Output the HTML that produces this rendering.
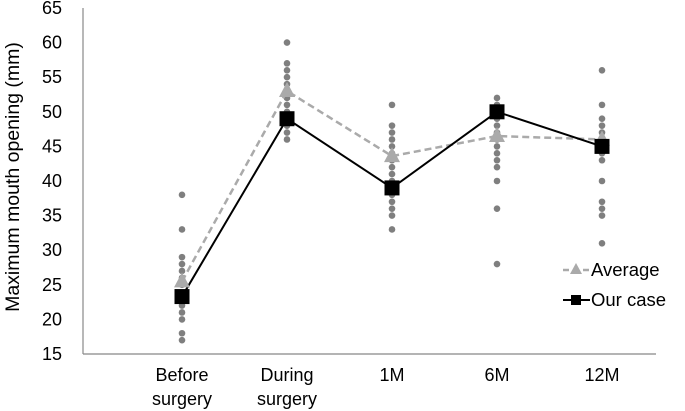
<!DOCTYPE html>
<html><head><meta charset="utf-8"><style>
body{margin:0;background:#fff;}
svg{display:block;font-family:"Liberation Sans",sans-serif;}
</style></head><body>
<svg id="chart" width="685" height="411">
<line x1="83" y1="8" x2="83" y2="354" stroke="#888" stroke-width="1.2"/>
<line x1="83" y1="354" x2="656" y2="354" stroke="#888" stroke-width="1.2"/>
<text transform="translate(19,177) rotate(-90)" text-anchor="middle" font-size="19.5" fill="#000">Maximum mouth opening (mm)</text>
<g id="yticks"></g><g id="xticks"></g><g id="dots"></g><g id="series"></g>
<g>
<g>
<line x1="563" y1="270" x2="590" y2="270" stroke="#aaa" stroke-width="2.5" stroke-dasharray="6,4"/>
<polygon points="576,263 582,274 570,274" fill="#aaa"/>
<text x="591" y="276" font-size="18.5">Average</text></g>
<g>
<line x1="563" y1="300" x2="590" y2="300" stroke="#000" stroke-width="2"/>
<rect x="571" y="295" width="10" height="10" fill="#000"/>
<text x="591" y="306" font-size="18.5">Our case</text></g>
</g>
</svg>
<script>
const categories=[["Before","surgery"],["During","surgery"],["1M"],["6M"],["12M"]];
const yTicks=[15,20,25,30,35,40,45,50,55,60,65];
const averageValues=[25.5,53,43.6,46.5,46];
const ourCaseValues=[23.3,49,39,50,45];
const patientsBefore=[38,33,29,28,27,26,25,22,21,20,18,17];
const patientsDuring=[60,57,56,55,54,52,51,50,48,47,46];
const patients1M=[51,48,47,46,45,44,43,42,41,40,39,38,37,36,35,33];
const patients6M=[52,51,50,49,48,47,46,45,44,43,42,40,36,28];
const patients12M=[56,51,49,48,47,46,45,44,43,40,37,36,35,31];
const patientSets=[patientsBefore,patientsDuring,patients1M,patients6M,patients12M];
const NS="http://www.w3.org/2000/svg";
const yS=v=>354-(v-15)*6.92;
const xS=i=>182+i*105;
function mk(tag,attrs,parent){const e=document.createElementNS(NS,tag);for(const k in attrs)e.setAttribute(k,attrs[k]);document.getElementById(parent).appendChild(e);return e;}
yTicks.forEach(t=>{const e=mk('text',{x:62,y:yS(t)+6,'text-anchor':'end','font-size':18},'yticks');e.textContent=t;

});
categories.forEach((c,i)=>{c.forEach((line,j)=>{const e=mk('text',{x:xS(i),y:381+j*24,'text-anchor':'middle','font-size':18},'xticks');e.textContent=line;

});});
patientSets.forEach((set,i)=>set.forEach(v=>{const e=mk('circle',{cx:xS(i),cy:yS(v),r:3.3,fill:'#7f7f7f'},'dots');

}));
const avgPath=mk('polyline',{points:averageValues.map((v,i)=>xS(i)+','+yS(v)).join(' '),fill:'none',stroke:'#aaa','stroke-width':2.5,'stroke-dasharray':'7,4'},'series');


const casePath=mk('polyline',{points:ourCaseValues.map((v,i)=>xS(i)+','+yS(v)).join(' '),fill:'none',stroke:'#000','stroke-width':2},'series');


averageValues.forEach((v,i)=>{const x=xS(i),y=yS(v);const e=mk('polygon',{points:`${x},${y-9} ${x+8},${y+6} ${x-8},${y+6}`,fill:'#aaa'},'series');

});
ourCaseValues.forEach((v,i)=>{const e=mk('rect',{x:xS(i)-7.5,y:yS(v)-7.5,width:15,height:15,fill:'#000'},'series');

});
</script>
</body></html>
